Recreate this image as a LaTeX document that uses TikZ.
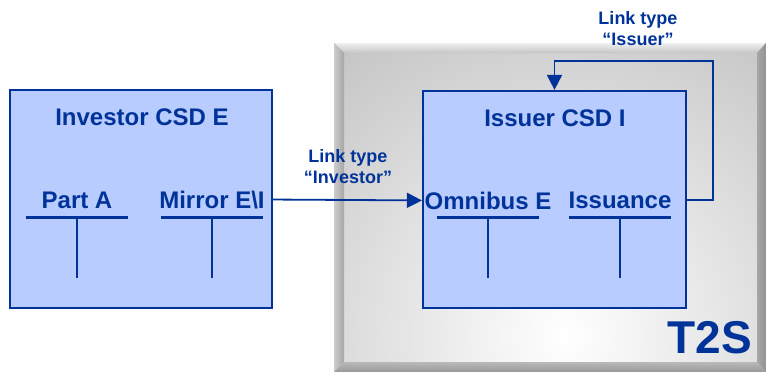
\documentclass[tikz,border=0pt]{standalone}
\usepackage{fontspec}
\setmainfont{Liberation Sans}
\usetikzlibrary{arrows.meta}
\definecolor{csdblue}{RGB}{0,51,153}
\definecolor{csdfill}{RGB}{184,204,255}
\tikzset{
  csd/.style={draw=csdblue, line width=2.2pt, fill=csdfill, inner sep=0pt},
  title/.style={anchor=base, text=csdblue, font=\fontsize{24}{28}\selectfont\bfseries},
  acct/.style={anchor=base, text=csdblue, font=\fontsize{24}{28}\selectfont\bfseries, inner sep=0pt},
  linklbl/.style={align=center, text=csdblue, font=\fontsize{18}{21}\selectfont\bfseries},
  link/.style={draw=csdblue, line width=1.8pt, -{Triangle[length=15pt,width=15pt]}},
}
\begin{document}
\begin{tikzpicture}[x=1pt,y=-1pt]
    \useasboundingbox (0,0) rectangle (766,372);
    % T2S platform with bevelled frame
    \begin{scope}
      \clip (334,43) rectangle (766,372);
      \fill[gray!65] (334,43) rectangle (766,372);
      \shade[inner color=white, outer color=gray!65] (565,335) circle (520);
      \shade[top color=gray!12, bottom color=gray!45] (334,43) -- (766,43) -- (757,53) -- (344,53) -- cycle;
      \shade[left color=gray!40, right color=gray!70] (334,43) -- (344,53) -- (344,362) -- (334,372) -- cycle;
      \shade[left color=gray!70, right color=gray!85] (766,43) -- (757,53) -- (757,362) -- (766,372) -- cycle;
      \shade[top color=gray!55, bottom color=gray!80] (334,372) -- (344,362) -- (757,362) -- (766,372) -- cycle;
    \end{scope}
    \node[title, font=\fontsize{46}{50}\selectfont\bfseries] (t2s) at (709.5,353) {T2S};
    % CSDs
    \node[csd, minimum width=262pt, minimum height=218pt] (inv) at (141,199) {};
    \node[csd, minimum width=263pt, minimum height=217pt] (iss) at (554.5,199.5) {};
    \node[title] (invt) at (142,125) {Investor CSD E};
    \node[title] (isst) at (555,126) {Issuer CSD I};
    % accounts
    \foreach \n/\t/\x/\y in {parta/Part A/77/208, mirror/Mirror E\textbackslash I/212/208,
                             omni/Omnibus E/488/209, issu/Issuance/620/208}
    {
      \node[acct] (\n) at (\x,\y) {\t};
      \draw[csdblue, line width=3pt] (\x-51,217) -- (\x+51,217);
      \draw[csdblue, line width=2.4pt] (\x,217) -- (\x,278);
    }
    % links
    \draw[link] (mirror.east -| inv.east) -- (omni.west -| iss.west);
    \node[linklbl] (invlink) at (348,167) {Link type\\“Investor”};
    \coordinate (bend) at (713,61);
    \draw[link] (issu.east -| iss.east) -| (bend) -| (iss.north);
    \node[linklbl] (isslink) at (638,29) {Link type\\“Issuer”};
  \end{tikzpicture}
\end{document}
